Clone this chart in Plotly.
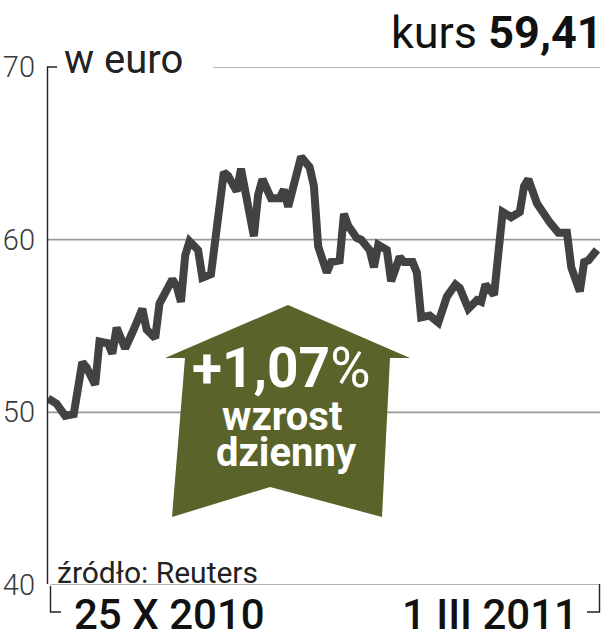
import plotly.graph_objects as go

# ---- data ----
days = [0, 2, 4, 6, 8, 9, 11, 12, 14, 15, 16, 18, 20, 22, 23, 25, 26, 27, 29, 30,
        31, 32, 33, 35, 36, 38, 41, 42, 44, 45, 48, 49, 50, 52, 54, 55, 56, 59, 61, 62,
        63, 65, 66, 68, 69, 70, 72, 73, 75, 76, 77, 79, 80, 82, 83, 85, 86, 87, 89, 91,
        93, 95, 96, 98, 100, 101, 102, 104, 105, 106, 108, 110, 111, 112, 114, 115, 117,
        119, 121, 122, 124, 125, 126, 128]
price = [50.8, 50.5, 49.8, 49.9, 52.9, 52.6, 51.6, 54.1, 54.0, 53.4, 54.9, 53.7, 54.8,
         56.0, 54.8, 54.3, 56.3, 56.7, 57.7, 57.3, 56.4, 59.1, 59.9, 59.4, 57.8, 58.0,
         63.9, 63.7, 62.8, 64.1, 60.2, 62.6, 63.5, 62.4, 62.4, 62.9, 61.9, 64.8, 64.2,
         63.1, 59.6, 58.1, 58.7, 58.8, 61.5, 60.8, 60.1, 60.0, 59.4, 58.4, 59.7, 59.4,
         57.6, 59.0, 58.7, 58.7, 58.1, 55.5, 55.6, 55.2, 56.7, 57.4, 57.2, 56.0, 56.5,
         56.4, 57.4, 56.8, 59.0, 61.6, 61.3, 61.6, 63.1, 63.5, 62.1, 61.7, 61.0, 60.4,
         60.4, 58.4, 57.0, 58.7, 58.8, 59.41]
y_ticks = [40, 50, 60, 70]
y_tick_labels = ["40", "50", "60", "70"]
start_label = "25 X 2010"
end_label = "1 III 2011"
last_value = "59,41"
daily_change = "+1,07"

FONT = "Roboto, Liberation Sans, sans-serif"
OLIVE = "#59632a"
LINE = "#424242"
GRID = "#9a9a9a"

fig = go.Figure()
fig.add_trace(go.Scatter(x=days, y=price, mode="lines",
                         line=dict(color=LINE, width=8), hoverinfo="skip",
                         showlegend=False))

W, H = 608, 640
L, R, T, B = 47, 8, 67, 55
pw, ph = W - L - R, H - T - B


def px(xp):
    return (xp - L) / pw


def py(yp):
    return (H - B - yp) / ph


shapes = []
for v in [50, 60]:
    shapes.append(dict(type="line", xref="paper", yref="y", x0=0, x1=1, y0=v, y1=v,
                       line=dict(color=GRID, width=1.6), layer="below"))
shapes.append(dict(type="line", xref="paper", yref="y", x0=px(50), x1=1, y0=40, y1=40,
                   line=dict(color=GRID, width=1.6), layer="below"))
shapes.append(dict(type="line", xref="paper", yref="y", x0=px(213), x1=1, y0=70, y1=70,
                   line=dict(color=GRID, width=1.6), layer="below"))
shapes.append(dict(type="path", xref="paper", yref="paper",
                   path=f"M {px(57)},{py(67)} L {px(47.5)},{py(67)} L {px(47.5)},{py(584)}",
                   line=dict(color="#222", width=1.4)))
shapes.append(dict(type="path", xref="paper", yref="paper",
                   path=f"M {px(50.5)},{py(586)} L {px(50.5)},{py(612)} L {px(61)},{py(612)}",
                   line=dict(color="#222", width=1.4)))
shapes.append(dict(type="path", xref="paper", yref="paper",
                   path=f"M {px(599.5)},{py(584)} L {px(599.5)},{py(612)} L {px(587)},{py(612)}",
                   line=dict(color="#222", width=1.4)))
arrow_pts = [(288, 305), (410, 358), (390, 358), (382, 517), (270, 487),
             (172, 517), (185, 358), (165, 358)]
path = "M " + " L ".join(f"{px(a)},{py(b)}" for a, b in arrow_pts) + " Z"
shapes.append(dict(type="path", xref="paper", yref="paper", path=path,
                   fillcolor=OLIVE, line=dict(width=0), layer="above"))


def note(text, xp, yp, size, xanchor="left", color="#1a1a1a", weight=None):
    f = dict(family=FONT, size=size, color=color)
    if weight:
        f["weight"] = weight
    return dict(text=text, xref="paper", yref="paper", x=px(xp), y=py(yp),
                xanchor=xanchor, yanchor="middle", showarrow=False, font=f,
                borderpad=0)


ann = [
    note("w euro", 63, 60, 40, color="#222"),
    note(f"kurs <b>{last_value}</b>", 604, 33, 45, xanchor="right", color="#111"),
    note("źródło: Reuters", 56, 572, 30, color="#222"),
    note(start_label, 73, 614, 42, color="#111", weight=500),
    note(end_label, 579, 614, 42, xanchor="right", color="#111", weight=500),
    note(f"<b>{daily_change}</b>%", 281, 368, 55, xanchor="center", color="white"),
    note("<b>wzrost</b>", 282, 416, 40, xanchor="center", color="white"),
    note("<b>dzienny</b>", 286, 452, 40, xanchor="center", color="white"),
]

fig.update_layout(
    width=W, height=H,
    margin=dict(l=L, r=R, t=T, b=B, pad=0),
    paper_bgcolor="white", plot_bgcolor="white",
    xaxis=dict(range=[-0.23, 128.7], visible=False, fixedrange=True),
    yaxis=dict(range=[40, 70], tickvals=y_ticks, ticktext=y_tick_labels,
               showgrid=False, zeroline=False, showline=False, ticks="",
               tickfont=dict(family=FONT, size=29, color="#3a3a3a", weight=300),
               ticklabelstandoff=11, automargin=False, fixedrange=True),
    shapes=shapes, annotations=ann,
)
fig.write_html("out.html", config={"displayModeBar": False},
               post_script="document.body.style.margin='0';document.body.style.padding='0';")
